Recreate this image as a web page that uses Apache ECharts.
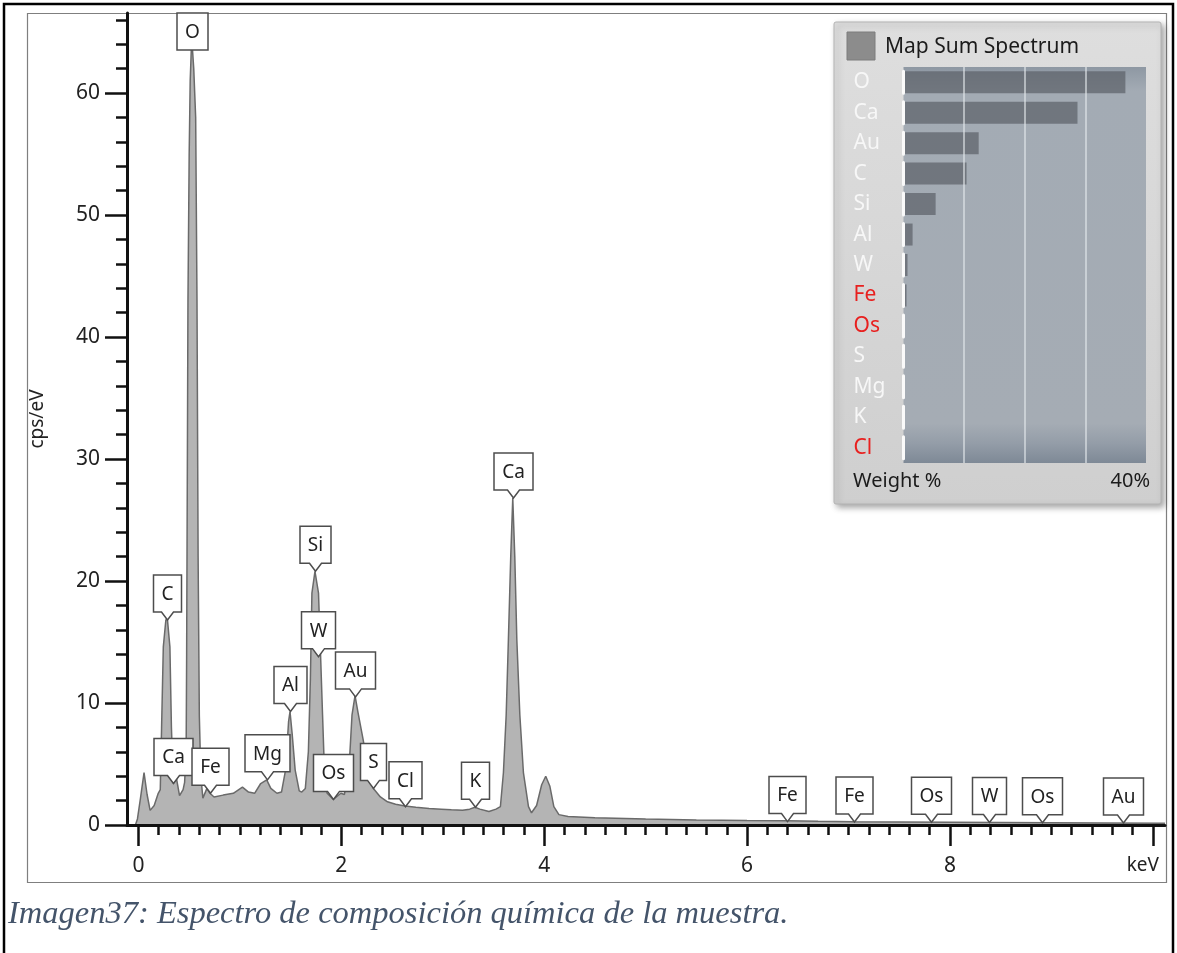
<!DOCTYPE html>
<html><head><meta charset="utf-8">
<script src="https://cdn.jsdelivr.net/npm/echarts@6/dist/echarts.min.js"></script>
<style>html,body{margin:0;padding:0;background:#fff}#c{width:1177px;height:953px}</style>
</head><body><div id="c"></div>
<script>
// ---- data ----
const spectrum = [
  [-0.03,0],[-0.01,0.5],[0.02,2.2],[0.055,4.3],[0.085,2.5],[0.115,1.2],[0.155,1.6],[0.195,2.6],
  [0.215,2.9],[0.228,8],[0.245,14.6],[0.27,16.8],[0.284,17.0],[0.31,14.6],[0.325,8],[0.343,3.4],
  [0.375,3.8],[0.405,2.4],[0.44,2.9],[0.455,3.5],
  [0.47,6],[0.475,14],[0.48,25],[0.488,43],[0.50,55],[0.51,61],[0.525,64.5],[0.545,62],[0.564,58],
  [0.577,43],[0.588,22],[0.60,9],[0.615,4],[0.635,2.2],
  [0.675,3.0],[0.705,2.6],[0.745,2.3],[0.835,2.45],[0.935,2.6],[1.025,3.1],[1.085,2.7],[1.145,2.6],
  [1.205,3.4],[1.264,3.7],[1.305,3.0],[1.365,2.6],[1.41,2.7],
  [1.45,4.5],[1.48,8.5],[1.494,9.3],[1.515,7.5],[1.545,4.5],[1.585,2.8],[1.61,2.7],
  [1.645,3],[1.675,6],[1.695,12],[1.71,19],[1.74,20.8],[1.775,19],[1.795,14],[1.815,9],[1.835,4],[1.86,2.6],
  [1.921,2.1],[1.995,2.6],[2.03,2.5],
  [2.075,4.5],[2.105,9],[2.135,10.6],[2.165,9.2],[2.215,7.0],[2.265,4.5],[2.316,3.0],
  [2.385,2.3],[2.455,1.9],[2.535,1.7],[2.628,1.55],[2.735,1.45],[2.865,1.35],[2.985,1.3],[3.085,1.25],
  [3.195,1.2],[3.265,1.3],[3.318,1.45],[3.365,1.3],[3.455,1.1],[3.525,1.3],
  [3.568,1.5],[3.598,4.3],[3.625,9],[3.647,15.2],[3.67,22],[3.69,26.8],[3.71,22],[3.73,15.2],[3.76,9],
  [3.795,4.3],[3.845,1.5],[3.875,1.0],[3.925,1.6],[3.975,3.3],[4.015,4.0],[4.055,3.2],[4.095,1.5],
  [4.145,0.85],[4.235,0.7],[4.5,0.6],[5.0,0.5],[5.5,0.42],[6.0,0.36],[6.395,0.34],[6.7,0.3],
  [7.057,0.27],[7.5,0.25],[8.0,0.22],[8.5,0.2],[9.0,0.18],[9.5,0.16],[10.12,0.15]
];
const peakNames = ['O','C','Ca','Fe','Mg','Al','Si','W','Os','Au','S','Cl','K','Ca','Fe','Fe','Os','W','Os','Au'];
const peakKeV   = [0.525,0.284,0.343,0.705,1.264,1.494,1.741,1.773,1.921,2.135,2.316,2.628,3.318,3.69,6.395,7.057,7.816,8.388,8.91,9.71];
const peakCps   = [64.5,16.8,3.4,2.6,3.7,9.3,20.8,13.8,2.1,10.5,3.0,1.5,1.45,26.8,0.28,0.25,0.22,0.2,0.18,0.16];

const elements = ['O','Ca','Au','C','Si','Al','W','Fe','Os','S','Mg','K','Cl'];
const weights  = [36.6,28.7,12.4,10.4,5.3,1.5,0.66,0.5,0.15,0.12,0.1,0.08,0.06];
const redElements = ['Fe','Os','Cl'];

const xMajorTicks = [0,2,4,6,8,10];
const xTickLabels = ['0','2','4','6','8','keV'];
const xMinorTicks = [0.2,0.4,0.6,0.8,1.0,1.2,1.4,1.6,1.8,2.2,2.4,2.6,2.8,3.0,3.2,3.4,3.6,3.8,
  4.2,4.4,4.6,4.8,5.0,5.2,5.4,5.6,5.8,6.2,6.4,6.6,6.8,7.0,7.2,7.4,7.6,7.8,8.2,8.4,8.6,8.8,9.0,9.2,9.4,9.6,9.8];
const yMajorTicks = [0,10,20,30,40,50,60];
const yMinorTicks = [2,4,6,8,12,14,16,18,22,24,26,28,32,34,36,38,42,44,46,48,52,54,56,58,62,64,66];

// ---- chart ----
const FONT = '"Noto Sans", "Open Sans", sans-serif';
const X_MIN = -0.113, X_MAX = 10.12, Y_MIN = 0, Y_MAX = 66.56;
const mainGrid = {left: 127, top: 13, width: 1038, height: 812, outerBoundsMode: 'none'};

const measureCtx = document.createElement('canvas').getContext('2d');
measureCtx.font = '19px ' + FONT;
function textW(t) { return measureCtx.measureText(t).width; }

function renderLabel(params, api) {
  const i = params.dataIndex;
  const p = api.coord([api.value(0), api.value(1)]);
  const name = peakNames[i];
  const w = Math.round(textW(name) + 16);
  const h = 37, nd = 8, nw = 6;
  const cx = Math.round(p[0]) + 0.5, ty = p[1];
  let bottom = ty - nd, top = bottom - h, notch = true;
  const gTop = params.coordSys.y;
  if (top < gTop) { top = gTop; bottom = top + h; notch = false; }
  const l = cx - w / 2, r = cx + w / 2;
  const pts = notch
    ? [[l, top], [r, top], [r, bottom], [cx + nw, bottom], [cx, ty], [cx - nw, bottom], [l, bottom]]
    : [[l, top], [r, top], [r, bottom], [l, bottom]];
  return {
    type: 'group',
    children: [
      {type: 'polygon', shape: {points: pts}, style: {fill: '#fff', stroke: '#4d4d4d', lineWidth: 1.5}},
      {type: 'text', style: {text: name, x: cx, y: (top + bottom) / 2 + 1, align: 'center', verticalAlign: 'middle',
        fill: '#222', fontSize: 19, fontFamily: FONT}}
    ]
  };
}

const axisBlack = '#111';
const option = {
  animation: false,
  backgroundColor: '#fff',
  title: {
    text: 'Imagen37: Espectro de composición química de la muestra.',
    left: 8, top: 898, padding: 0,
    textStyle: {fontFamily: '"Liberation Serif", "Times New Roman", serif', fontStyle: 'italic', fontWeight: 'normal', fontSize: 32.5, color: '#44546a'}
  },
  grid: [
    Object.assign({}, mainGrid),
    Object.assign({}, mainGrid),
    {left: 903.5, top: 67, width: 242.5, height: 396, outerBoundsMode: 'none'}
  ],
  xAxis: [
    {
      type: 'value', gridIndex: 0, min: X_MIN, max: X_MAX, z: 3,
      axisLine: {show: true, onZero: false, lineStyle: {color: axisBlack, width: 3}},
      axisTick: {show: true, customValues: xMajorTicks, length: 21, lineStyle: {color: axisBlack, width: 2.5}},
      axisLabel: {
        customValues: xMajorTicks, margin: 31, fontSize: 21, fontFamily: FONT, color: '#222',
        formatter: function (v) {
          const k = xMajorTicks.indexOf(Math.round(v * 1000) / 1000);
          const t = k >= 0 ? xTickLabels[k] : '';
          return t === 'keV' ? '{u|keV}' : t;
        },
        rich: {u: {fontSize: 19, fontFamily: FONT, color: '#222', padding: [0, 20, 0, 0]}}
      },
      splitLine: {show: false}
    },
    {
      type: 'value', gridIndex: 1, min: X_MIN, max: X_MAX, z: 3,
      axisLine: {show: false, onZero: false},
      axisTick: {show: true, customValues: xMinorTicks, length: 10, lineStyle: {color: axisBlack, width: 2.5}},
      axisLabel: {show: false},
      splitLine: {show: false}
    },
    {
      type: 'value', gridIndex: 2, min: 0, max: 40, interval: 10, z: 5,
      axisLine: {show: false}, axisTick: {show: false}, axisLabel: {show: false},
      splitLine: {show: true, showMinLine: false, showMaxLine: false, lineStyle: {color: 'rgba(228,232,236,0.8)', width: 1.5}}
    }
  ],
  yAxis: [
    {
      type: 'value', gridIndex: 0, min: Y_MIN, max: Y_MAX, z: 3,
      name: 'cps/eV', nameLocation: 'middle', nameGap: 80,
      nameTextStyle: {fontSize: 19, fontFamily: FONT, color: '#222'},
      axisLine: {show: true, onZero: false, lineStyle: {color: axisBlack, width: 3}},
      axisTick: {show: true, customValues: yMajorTicks, length: 22, lineStyle: {color: axisBlack, width: 2.5}},
      axisLabel: {customValues: yMajorTicks, margin: 27, fontSize: 21, fontFamily: FONT, color: '#222'},
      splitLine: {show: false}
    },
    {
      type: 'value', gridIndex: 1, min: Y_MIN, max: Y_MAX, z: 3,
      axisLine: {show: false, onZero: false},
      axisTick: {show: true, customValues: yMinorTicks, length: 11, lineStyle: {color: axisBlack, width: 2.5}},
      axisLabel: {show: false},
      splitLine: {show: false}
    },
    {
      type: 'category', gridIndex: 2, data: elements, inverse: true, z: 5,
      axisLine: {show: true, onZero: false, lineStyle: {color: '#fafafa', width: 3, type: [22, 8.46], dashOffset: 26.23}},
      axisTick: {show: false},
      axisLabel: {
        margin: 50, align: 'left', fontSize: 21, fontFamily: FONT,
        color: function (v) { return redElements.indexOf(v) >= 0 ? '#e8201f' : '#f7f7f7'; }
      },
      splitLine: {show: false}
    }
  ],
  graphic: [
    {type: 'polyline', z: 0, shape: {points: [[4, 960], [4, 4], [1173, 4], [1173, 960]]}, style: {stroke: '#000', lineWidth: 2.5, fill: null}},
    {type: 'rect', z: 0, shape: {x: 27.5, y: 13.5, width: 1139, height: 869}, style: {fill: null, stroke: '#7f7f7f', lineWidth: 1.2}},
    {type: 'rect', z: 0, shape: {x: 834, y: 22, width: 327, height: 482, r: 2},
      style: {fill: {type: 'linear', x: 0, y: 0, x2: 0, y2: 1, colorStops: [{offset: 0, color: '#dedede'}, {offset: 1, color: '#cfcfcf'}]},
        stroke: '#b3b3b3', lineWidth: 1, shadowBlur: 6, shadowOffsetX: 3, shadowOffsetY: 3, shadowColor: 'rgba(0,0,0,0.35)'}},
    {type: 'rect', z: 1, shape: {x: 847, y: 32, width: 28, height: 28}, style: {fill: '#8c8c8c', stroke: '#7c7c7c', lineWidth: 1}},
    {type: 'text', z: 1, style: {text: 'Map Sum Spectrum', x: 885, y: 47, verticalAlign: 'middle', fontSize: 21, fontFamily: FONT, fill: '#1b1b1b'}},
    {type: 'rect', z: 1, shape: {x: 903.5, y: 67, width: 242.5, height: 396},
      style: {fill: {type: 'linear', x: 0, y: 0, x2: 0, y2: 1, colorStops: [
        {offset: 0, color: '#8e98a3'}, {offset: 0.06, color: '#a3abb4'}, {offset: 0.9, color: '#a5acb4'},
        {offset: 0.95, color: '#949da8'}, {offset: 1, color: '#7e8996'}]}}},
    {type: 'text', z: 1, style: {text: 'Weight %', x: 853, y: 481, verticalAlign: 'middle', fontSize: 20, fontFamily: FONT, fill: '#1b1b1b'}},
    {type: 'text', z: 1, style: {text: '40%', x: 1150, y: 481, align: 'right', verticalAlign: 'middle', fontSize: 20, fontFamily: FONT, fill: '#1b1b1b'}}
  ],
  series: [
    {
      type: 'line', xAxisIndex: 0, yAxisIndex: 0, data: spectrum, symbol: 'none', smooth: false, z: 2,
      lineStyle: {color: '#6a6a6a', width: 1.5},
      areaStyle: {color: '#b4b4b4', opacity: 1}
    },
    {
      type: 'custom', xAxisIndex: 0, yAxisIndex: 0, z: 10, clip: false, silent: true,
      renderItem: renderLabel,
      encode: {x: 0, y: 1},
      data: peakKeV.map(function (k, i) { return [k, peakCps[i]]; })
    },
    {
      type: 'bar', xAxisIndex: 2, yAxisIndex: 2, data: weights, barWidth: 22, z: 3,
      itemStyle: {color: 'rgba(88,93,100,0.68)'}
    }
  ]
};
const chart = echarts.init(document.getElementById('c'));
chart.setOption(option);
</script></body></html>
